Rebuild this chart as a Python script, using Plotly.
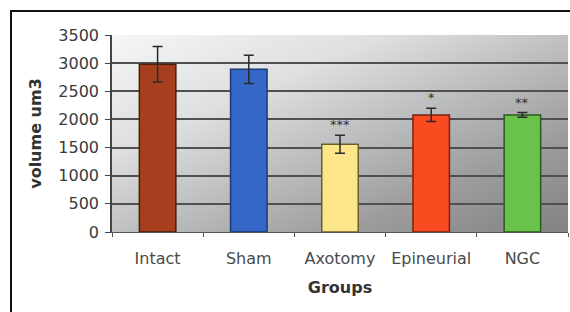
import plotly.graph_objects as go
import base64

groups = ["Intact", "Sham", "Axotomy", "Epineurial", "NGC"]
volume = [2980, 2890, 1560, 2080, 2080]
errors = [315, 250, 160, 118, 42]
sig_labels = ["", "", "***", "*", "**"]
bar_colors = ["#A63F1E", "#3467C8", "#FDE58A", "#FA4A20", "#69C34A"]
line_colors = ["#4a1e0c", "#1d3a75", "#6a5e30", "#7a2410", "#2a5a1c"]
y_ticks = [0, 500, 1000, 1500, 2000, 2500, 3000, 3500]

svg = """<svg xmlns='http://www.w3.org/2000/svg' width='456' height='197' viewBox='0 0 456 197' preserveAspectRatio='none'>
<defs><linearGradient id='g' x1='0' y1='0' x2='1' y2='1'>
<stop offset='0' stop-color='#f6f6f6'/>
<stop offset='0.3' stop-color='#dddfe0'/>
<stop offset='0.55' stop-color='#b9babb'/>
<stop offset='0.75' stop-color='#9d9d9d'/>
<stop offset='1' stop-color='#828282'/>
</linearGradient></defs>
<rect width='456' height='197' fill='url(#g)'/>
</svg>"""
bg_uri = "data:image/svg+xml;base64," + base64.b64encode(svg.encode()).decode()

fig = go.Figure()
fig.add_trace(go.Bar(
    x=groups, y=volume,
    marker=dict(color=bar_colors, line=dict(color=line_colors, width=1.5)),
    error_y=dict(type="data", array=errors, visible=True, color="#2a2a2a", thickness=1.5, width=5),
    width=0.4, hoverinfo="skip",
))

for g, v, e, s in zip(groups, volume, errors, sig_labels):
    if s:
        fig.add_annotation(x=g, y=v + e, text=s, showarrow=False, yanchor="bottom",
                           yshift=1, font=dict(family="DejaVu Sans", size=13, color="#333333"))

fig.add_layout_image(dict(source=bg_uri, xref="paper", yref="paper", x=0, y=1,
                          sizex=1, sizey=1, sizing="stretch", layer="below"))

fig.add_shape(type="rect", xref="paper", yref="paper", x0=-0.2215, y0=-0.6, x1=1.2, y1=1.1218,
              line=dict(color="#111111", width=2), fillcolor="rgba(0,0,0,0)")

fig.update_layout(
    width=570, height=312,
    margin=dict(l=112, r=2, t=35, b=80),
    paper_bgcolor="white", plot_bgcolor="rgba(0,0,0,0)",
    showlegend=False,
    font=dict(family="DejaVu Sans", size=16, color="#333333"),
    xaxis=dict(title=dict(text="<b>Groups</b>", font=dict(size=16, color="#333333"), standoff=14),
               tickson="boundaries", ticks="outside", ticklen=4, tickcolor="#555555",
               ticklabelstandoff=12,
               showline=True, linecolor="#555555", linewidth=1, showgrid=False,
               tickfont=dict(size=16, color="#4a4a4a")),
    yaxis=dict(title=dict(text="<b>volume um3</b>", font=dict(size=16, color="#333333"), standoff=13),
               range=[0, 3500], tickvals=y_ticks, ticks="outside", ticklen=5, tickcolor="#444444",
               ticklabelstandoff=3,
               showline=True, linecolor="#444444", linewidth=1.5,
               showgrid=True, gridcolor="#505050", gridwidth=2, zeroline=False,
               tickfont=dict(size=16, color="#3a3a3a")),
    bargap=0.6,
)

fig.write_html("out.html", config={"displayModeBar": False},
               post_script="document.body.style.margin='0';document.body.style.overflow='hidden';")
